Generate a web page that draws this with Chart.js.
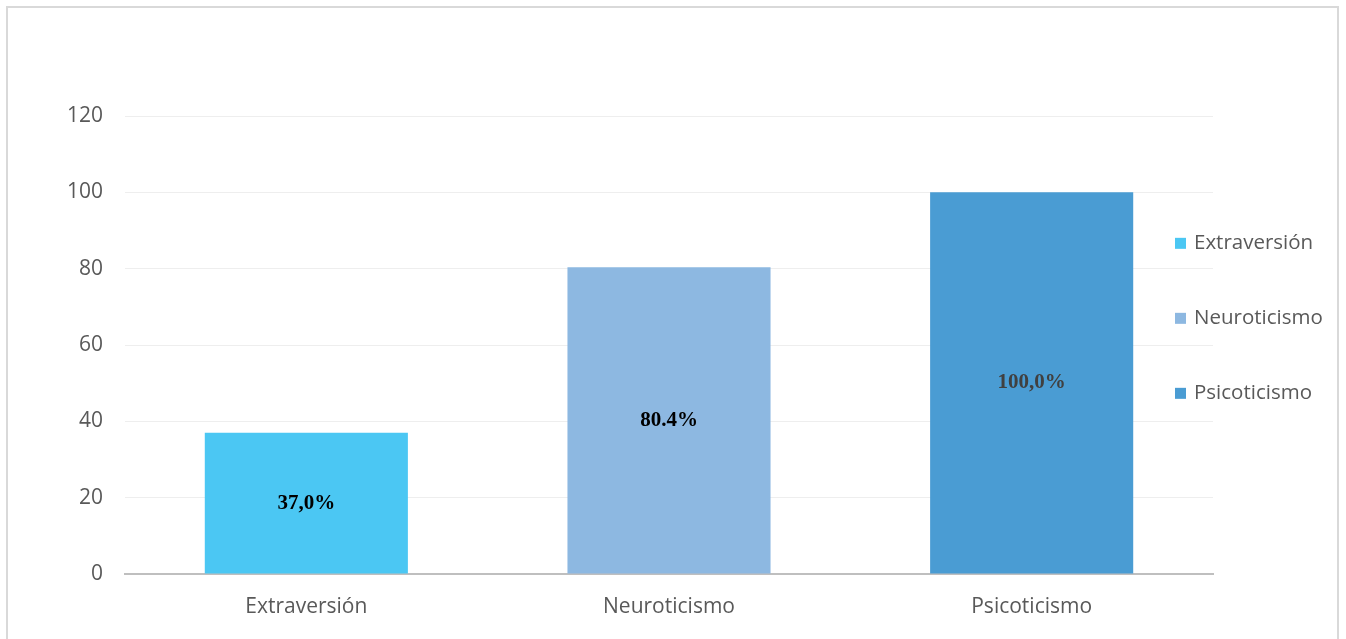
<!DOCTYPE html>
<html lang="es">
<head>
  <meta charset="UTF-8">
  <title>Extraversión, Neuroticismo, Psicoticismo</title>
  <script src="https://cdn.jsdelivr.net/npm/chart.js"></script>
  <style>
    html, body { margin: 0; padding: 0; background: #fff; }
    #frame {
      position: absolute; left: 6px; top: 6px;
      width: 1333px; height: 640px;
      border: 2px solid #d9d9d9; box-sizing: border-box;
    }
    #wrap { position: absolute; left: 0; top: 0; width: 1346px; height: 639px; }
  </style>
</head>
<body>
  <div id="frame"></div>
  <div id="wrap"><canvas id="myChart"></canvas></div>

  <script>
    // chart data
    const categories = ['Extraversión', 'Neuroticismo', 'Psicoticismo'];
    const values = [37.0, 80.4, 100.0];
    const valueLabels = ['37,0%', '80.4%', '100,0%'];
    const barColors = ['#4bc7f3', '#8db8e1', '#4a9cd3'];
    const labelColors = ['#000000', '#000000', '#404040'];
    const yTicks = [0, 20, 40, 60, 80, 100, 120];

    // one dataset per category so each gets its own legend entry
    const datasets = categories.map((name, i) => ({
      label: name,
      data: categories.map((c, j) => (j === i ? values[i] : null)),
      backgroundColor: barColors[i],
      borderWidth: 0,
      grouped: false,
      barPercentage: 0.56,
      categoryPercentage: 1.0
    }));

    // text in the middle of each bar
    const barLabels = {
      id: 'barLabels',
      afterDatasetsDraw(chart) {
        const ctx = chart.ctx;
        ctx.save();
        ctx.font = 'bold 21px "Liberation Serif", serif';
        ctx.textAlign = 'center';
        ctx.textBaseline = 'middle';
        chart.data.datasets.forEach((ds, i) => {
          const bar = chart.getDatasetMeta(i).data[i];
          ctx.fillStyle = labelColors[i];
          ctx.fillText(valueLabels[i], bar.x, (bar.y + bar.base) / 2);
        });
        ctx.restore();
      }
    };

    // legend drawn on top of the plot's right side, like the original
    const sideLegend = {
      id: 'sideLegend',
      afterDraw(chart) {
        const ctx = chart.ctx;
        const area = chart.chartArea;
        const x = area.right - 38;
        const yMid = (chart.scales.y.getPixelForValue(60) + chart.scales.y.getPixelForValue(80)) / 2 + 11;
        const step = 75;
        ctx.save();
        ctx.font = '20.5px "Open Sans", sans-serif';
        ctx.textBaseline = 'middle';
        chart.data.datasets.forEach((ds, i) => {
          const y = yMid + (i - 1) * step;
          ctx.fillStyle = ds.backgroundColor;
          ctx.fillRect(x, y - 5, 11, 11);
          ctx.fillStyle = '#595959';
          ctx.fillText(ds.label, x + 19, y);
        });
        ctx.restore();
      }
    };

    const ctx = document.getElementById('myChart').getContext('2d');
    new Chart(ctx, {
      type: 'bar',
      data: { labels: categories, datasets: datasets },
      options: {
        responsive: true,
        maintainAspectRatio: false,
        animation: false,
        layout: { padding: { left: 0, right: 133, top: 116, bottom: 15 } },
        plugins: {
          legend: { display: false },
          tooltip: { enabled: false }
        },
        scales: {
          x: {
            grid: { display: false, drawTicks: false },
            border: { color: '#bfbfbf', width: 2 },
            ticks: {
              padding: 20,
              color: '#595959',
              font: { family: '"Open Sans", sans-serif', size: 21 }
            },
            afterFit(scale) { scale.height = 50; }
          },
          y: {
            min: 0,
            max: 120,
            afterBuildTicks(scale) { scale.ticks = yTicks.map(v => ({ value: v })); },
            grid: { color: '#eeeeee', lineWidth: 1, drawTicks: false },
            border: { display: false },
            ticks: {
              padding: 22,
              color: '#595959',
              font: { family: '"Open Sans", sans-serif', size: 21 }
            },
            afterFit(scale) { scale.width = 125; }
          }
        }
      },
      plugins: [barLabels, sideLegend]
    });
  </script>
</body>
</html>
